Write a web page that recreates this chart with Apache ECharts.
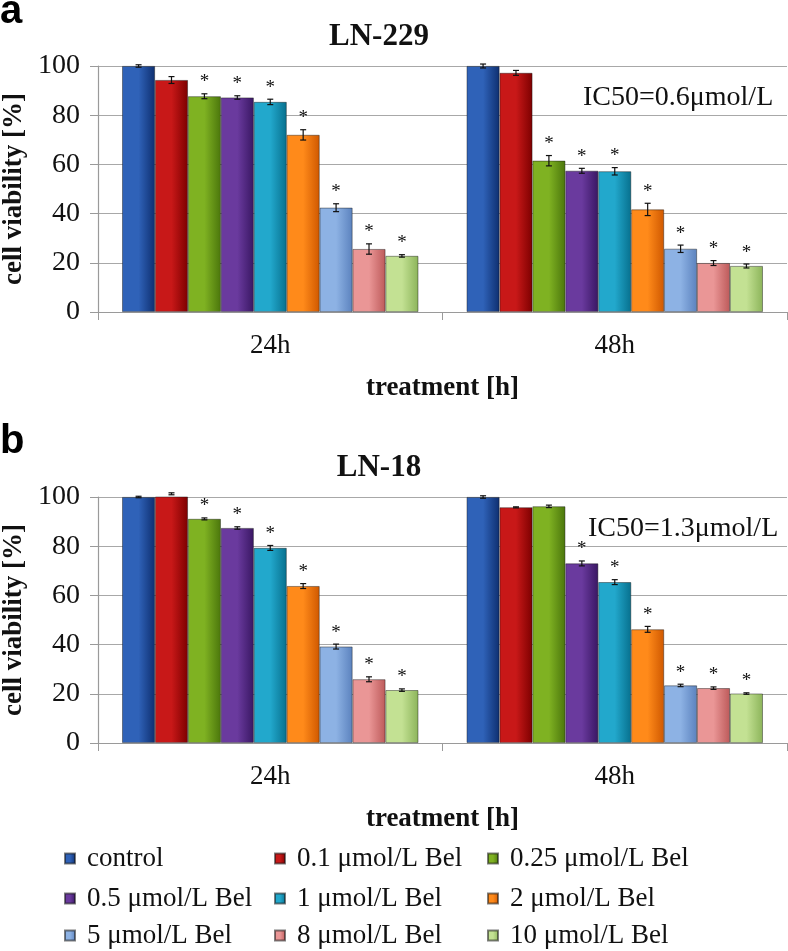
<!DOCTYPE html>
<html><head><meta charset="utf-8">
<script src="https://cdn.jsdelivr.net/npm/echarts@6/dist/echarts.min.js"></script>
<style>html,body{margin:0;padding:0;background:#fff}#c{width:788px;height:951px}</style>
</head><body><div id="c"></div>
<script>
const categories = ['24h', '48h'];
const seriesNames = ['control', '0.1 μmol/L Bel', '0.25 μmol/L Bel', '0.5 μmol/L Bel', '1 μmol/L Bel', '2 μmol/L Bel', '5 μmol/L Bel', '8 μmol/L Bel', '10 μmol/L Bel'];
const yTicks = [0, 20, 40, 60, 80, 100];
// LN-229
const ln229_24h = [100, 94.3, 87.7, 87.2, 85.4, 72, 42.4, 25.6, 22.8];
const ln229_24h_err = [0.5, 1.4, 1.0, 0.7, 1.1, 2.1, 1.6, 2.1, 0.5];
const ln229_24h_sig = [0, 0, 1, 1, 1, 1, 1, 1, 1];
const ln229_48h = [100, 97.2, 61.5, 57.4, 57.2, 41.7, 25.7, 19.9, 18.7];
const ln229_48h_err = [0.8, 1.0, 2.1, 1.0, 1.5, 2.5, 1.5, 1.0, 0.8];
const ln229_48h_sig = [0, 0, 1, 1, 1, 1, 1, 1, 1];
// LN-18
const ln18_24h = [100, 101.3, 91.1, 87.4, 79.3, 63.8, 39.2, 25.9, 21.5];
const ln18_24h_err = [0.3, 0.4, 0.4, 0.5, 1.0, 1.0, 1.0, 1.0, 0.5];
const ln18_24h_sig = [0, 0, 1, 1, 1, 1, 1, 1, 1];
const ln18_48h = [100, 95.8, 96.2, 73.0, 65.4, 46.2, 23.4, 22.3, 20.1];
const ln18_48h_err = [0.5, 0.2, 0.5, 1.0, 1.0, 1.2, 0.5, 0.5, 0.3];
const ln18_48h_sig = [0, 0, 0, 1, 1, 1, 1, 1, 1];

const colorsLight = ['#2f62b8', '#c81818', '#7fb222', '#6a3a9e', '#22a8cc', '#ff8a1a', '#8db2e4', '#ea9696', '#c3e193'];
const colorsDark  = ['#0e2f70', '#7d0000', '#4b760c', '#391763', '#07708e', '#cf5800', '#5b82be', '#bd5a5a', '#8cb45a'];

const SERIF = '"Liberation Serif", "Times New Roman", serif';
const SANS = '"Liberation Sans", Arial, sans-serif';
const chart = echarts.init(document.getElementById('c'));

function grad(i) {
  return new echarts.graphic.LinearGradient(0, 0, 1, 0, [
    {offset: 0, color: colorsLight[i]}, {offset: 0.5, color: colorsLight[i]}, {offset: 1, color: colorsDark[i]}
  ]);
}

const gridTops = [66, 497];
const grids = gridTops.map(t => ({left: 98, right: 1, top: t, height: 246, outerBoundsMode: 'none', containLabel: false}));
const xAxes = [0, 1].map(g => ({
  type: 'category', gridIndex: g, data: categories,
  axisLine: {lineStyle: {color: '#9a9a9a', width: 1.2}},
  axisTick: {show: true, length: 8, lineStyle: {color: '#9a9a9a'}},
  axisLabel: {fontFamily: SERIF, fontSize: 27, color: '#111', margin: 20},
  name: 'treatment [h]', nameLocation: 'middle', nameGap: 63,
  nameTextStyle: {fontFamily: SERIF, fontSize: 27, fontWeight: 'bold', color: '#111'}
}));
const yAxes = [0, 1].map(g => ({
  type: 'value', gridIndex: g, min: 0, max: 100, interval: 20,
  axisLine: {show: true, lineStyle: {color: '#9a9a9a', width: 1.2}},
  axisTick: {show: true, length: 8, lineStyle: {color: '#9a9a9a'}},
  splitLine: {lineStyle: {color: '#a8a8a8', width: 1.2}},
  axisLabel: {fontFamily: SERIF, fontSize: 28, color: '#111', margin: 18,
    formatter: v => yTicks.includes(v) ? String(v) : ''},
  name: 'cell viability [%]', nameLocation: 'middle', nameGap: 70, nameRotate: 90,
  nameTextStyle: {fontFamily: SERIF, fontSize: 27, fontWeight: 'bold', color: '#111'}
}));

const series = [];
const panels = [
  {a: ln229_24h, b: ln229_48h, ea: ln229_24h_err, eb: ln229_48h_err, sa: ln229_24h_sig, sb: ln229_48h_sig},
  {a: ln18_24h, b: ln18_48h, ea: ln18_24h_err, eb: ln18_48h_err, sa: ln18_24h_sig, sb: ln18_48h_sig}
];
panels.forEach((p, g) => {
  seriesNames.forEach((name, i) => {
    series.push({
      type: 'bar', name, xAxisIndex: g, yAxisIndex: g,
      data: [p.a[i], p.b[i]],
      barGap: '0%', barCategoryGap: '14%',
      itemStyle: {color: grad(i), borderColor: 'rgba(20,20,20,0.55)', borderWidth: 0.8},
      emphasis: {disabled: true}
    });
  });
  const errData = [];
  seriesNames.forEach((name, i) => {
    errData.push([0, p.a[i], p.ea[i], p.sa[i], i]);
    errData.push([1, p.b[i], p.eb[i], p.sb[i], i]);
  });
  series.push({
    type: 'custom', xAxisIndex: g, yAxisIndex: g, data: errData, z: 10,
    encode: {x: 0, y: 1},
    renderItem: function (params, api) {
      const cat = api.value(0), val = api.value(1), err = api.value(2), sig = api.value(3), idx = api.value(4);
      const band = api.size([1, 0])[0];
      const total = band * (1 - 0.14);
      const bw = total / seriesNames.length;
      const cx = api.coord([cat, 0])[0] - total / 2 + (idx + 0.5) * bw;
      const yTop = api.coord([cat, val + err])[1];
      const yBot = api.coord([cat, val - err])[1];
      const style = {stroke: '#111', lineWidth: 1.2};
      const children = [
        {type: 'line', shape: {x1: cx, y1: yTop, x2: cx, y2: yBot}, style},
        {type: 'line', shape: {x1: cx - 3, y1: yTop, x2: cx + 3, y2: yTop}, style},
        {type: 'line', shape: {x1: cx - 3, y1: yBot, x2: cx + 3, y2: yBot}, style}
      ];
      if (sig) {
        children.push({type: 'text', x: cx, y: yTop - 2,
          style: {text: '*', fontFamily: SERIF, fontSize: 19, fill: '#111', align: 'center', verticalAlign: 'bottom'}});
      }
      return {type: 'group', children};
    }
  });
});

const legendColX = [64, 274, 487];
const legendRowY = [845, 885, 922];
const legends = seriesNames.map((name, i) => ({
  left: legendColX[i % 3], top: legendRowY[Math.floor(i / 3)], padding: 0,
  data: [name], icon: 'rect', itemWidth: 10, itemHeight: 10,
  textStyle: {fontFamily: SERIF, fontSize: 27, color: '#111', padding: [0, 0, 0, 7]},
  selectedMode: false
}));

chart.setOption({
  animation: false,
  backgroundColor: '#fff',
  grid: grids, xAxis: xAxes, yAxis: yAxes, series, legend: legends,
  title: [
    {text: 'LN-229', left: 374, top: 16, textAlign: 'center',
      textStyle: {fontFamily: SERIF, fontSize: 31, fontWeight: 'bold', color: '#111'}},
    {text: 'LN-18', left: 374, top: 447, textAlign: 'center',
      textStyle: {fontFamily: SERIF, fontSize: 31, fontWeight: 'bold', color: '#111'}}
  ],
  graphic: [
    {type: 'text', left: 0, top: -8, style: {text: 'a', fontFamily: SANS, fontSize: 40, fontWeight: 'bold', fill: '#000'}},
    {type: 'text', left: 0, top: 422, style: {text: 'b', fontFamily: SANS, fontSize: 40, fontWeight: 'bold', fill: '#000'}},
    {type: 'text', left: 583, top: 84, style: {text: 'IC50=0.6μmol/L', fontFamily: SERIF, fontSize: 28, fill: '#111'}},
    {type: 'text', left: 588, top: 515, style: {text: 'IC50=1.3μmol/L', fontFamily: SERIF, fontSize: 28, fill: '#111'}}
  ]
});
</script></body></html>
